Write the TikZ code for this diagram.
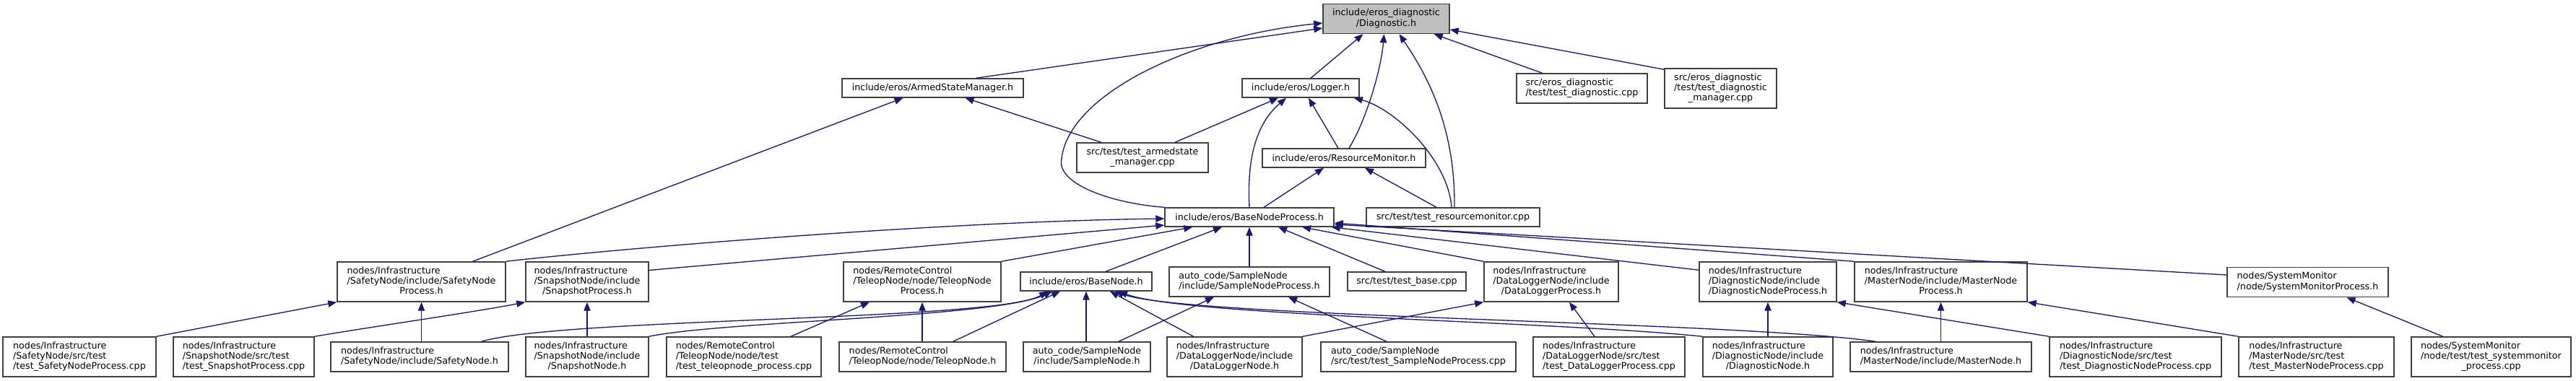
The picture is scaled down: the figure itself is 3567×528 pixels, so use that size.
\documentclass[tikz,border=0pt]{standalone}
\usepackage{fontspec}
\setmainfont{DejaVu Sans}
\usepackage{tikz}
\usetikzlibrary{arrows.meta, calc}
\definecolor{edgeblue}{HTML}{191970}
\definecolor{boxline}{HTML}{404040}
\definecolor{rootfill}{HTML}{BFBFBF}
\newcommand{\flab}[2]{\begin{tabular}{@{}l@{}}#1\\\multicolumn{1}{@{}c@{}}{#2}\end{tabular}}

\begin{document}
\begin{tikzpicture}[
			x=0.75pt, y=-0.75pt,
			file/.style={draw=boxline, line width=1.1pt, fill=white, inner sep=2pt,
				font=\fontsize{9.5}{10.75}\selectfont, minimum width=#1},
			oneln/.style={minimum height=19.5pt},
			twoln/.style={minimum height=30.75pt},
			threeln/.style={minimum height=41.25pt},
			dep/.style={<-, >={Triangle[length=9pt, width=7pt]}, draw=edgeblue, line width=1pt}
			]
			\useasboundingbox (0,0) rectangle (3567,528);
			\node[file=131.25pt, twoln, fill=rootfill] (diag) at (1919.5,26) {\flab{include/eros\_diagnostic}{/Diagnostic.h}};

			\node[file=188.25pt, oneln] (asm) at (1291.5,122) {include/eros/ArmedStateManager.h};
			\node[file=121.5pt, oneln] (logger) at (1801,122) {include/eros/Logger.h};
			\node[file=135.75pt, twoln] (tdiag) at (2190.5,122.5) {\flab{src/eros\_diagnostic}{/test/test\_diagnostic.cpp}};
			\node[file=116.25pt, threeln] (tdiagmgr) at (2382.5,122.5) {\flab{src/eros\_diagnostic\\/test/test\_diagnostic}{\_manager.cpp}};

			\node[file=136.5pt, twoln] (tasm) at (1582,218.5) {\flab{src/test/test\_armedstate}{\_manager.cpp}};
			\node[file=169.5pt, oneln] (resmon) at (1861,219) {include/eros/ResourceMonitor.h};

			\node[file=175.5pt, oneln] (bnp) at (1730,301) {include/eros/BaseNodeProcess.h};
			\node[file=180pt, oneln] (tresmon) at (2012,301) {src/test/test\_resourcemonitor.cpp};

			\node[file=174.75pt, threeln] (safetyproc) at (583.5,390.5) {\flab{nodes/Infrastructure\\/SafetyNode/include/SafetyNode}{Process.h}};
			\node[file=127.5pt, threeln] (snapproc) at (813,390.5) {\flab{nodes/Infrastructure\\/SnapshotNode/include}{/SnapshotProcess.h}};
			\node[file=163.5pt, threeln] (teleopproc) at (1277,390.5) {\flab{nodes/RemoteControl\\/TeleopNode/node/TeleopNode}{Process.h}};
			\node[file=136.5pt, oneln] (basenode) at (1504,390) {include/eros/BaseNode.h};
			\node[file=166.5pt, twoln] (sampleproc) at (1730,390.5) {\flab{auto\_code/SampleNode}{/include/SampleNodeProcess.h}};
			\node[file=123pt, oneln] (testbase) at (1948,390) {src/test/test\_base.cpp};
			\node[file=139.5pt, threeln] (dlproc) at (2148,390.5) {\flab{nodes/Infrastructure\\/DataLoggerNode/include}{/DataLoggerProcess.h}};
			\node[file=142.5pt, threeln] (diagproc) at (2448,390.5) {\flab{nodes/Infrastructure\\/DiagnosticNode/include}{/DiagnosticNodeProcess.h}};
			\node[file=179.25pt, threeln] (masterproc) at (2687.5,390.5) {\flab{nodes/Infrastructure\\/MasterNode/include/MasterNode}{Process.h}};
			\node[file=167.25pt, twoln] (sysmonproc) at (3195.5,391) {\flab{nodes/SystemMonitor}{/node/SystemMonitorProcess.h}};

			\node[file=159pt, threeln] (tsafety) at (110,494.5) {\flab{nodes/Infrastructure\\/SafetyNode/src/test}{/test\_SafetyNodeProcess.cpp}};
			\node[file=146.25pt, threeln] (tsnap) at (337.5,494.5) {\flab{nodes/Infrastructure\\/SnapshotNode/src/test}{/test\_SnapshotProcess.cpp}};
			\node[file=184.5pt, twoln] (safetynode) at (581,494.5) {\flab{nodes/Infrastructure}{/SafetyNode/include/SafetyNode.h}};
			\node[file=127.5pt, threeln] (snapnode) at (813,494.5) {\flab{nodes/Infrastructure\\/SnapshotNode/include}{/SnapshotNode.h}};
			\node[file=160.5pt, threeln] (tteleop) at (1030,494.5) {\flab{nodes/RemoteControl\\/TeleopNode/node/test}{/test\_teleopnode\_process.cpp}};
			\node[file=173.25pt, twoln] (teleopnode) at (1277.5,494.5) {\flab{nodes/RemoteControl}{/TeleopNode/node/TeleopNode.h}};
			\node[file=132pt, twoln] (samplenode) at (1505,494.5) {\flab{auto\_code/SampleNode}{/include/SampleNode.h}};
			\node[file=140.25pt, threeln] (dlnode) at (1709.5,494.5) {\flab{nodes/Infrastructure\\/DataLoggerNode/include}{/DataLoggerNode.h}};
			\node[file=202.5pt, twoln] (tsample) at (1964,494.5) {\flab{auto\_code/SampleNode}{/src/test/test\_SampleNodeProcess.cpp}};
			\node[file=157.5pt, threeln] (tdl) at (2228,494.5) {\flab{nodes/Infrastructure\\/DataLoggerNode/src/test}{/test\_DataLoggerProcess.cpp}};
			\node[file=135pt, threeln] (diagnode) at (2448,494.5) {\flab{nodes/Infrastructure\\/DiagnosticNode/include}{/DiagnosticNode.h}};
			\node[file=188.25pt, twoln] (masternode) at (2687.5,494.5) {\flab{nodes/Infrastructure}{/MasterNode/include/MasterNode.h}};
			\node[file=178.5pt, threeln] (tdiagproc) at (2957,494.5) {\flab{nodes/Infrastructure\\/DiagnosticNode/src/test}{/test\_DiagnosticNodeProcess.cpp}};
			\node[file=161.25pt, threeln] (tmaster) at (3207.5,494.5) {\flab{nodes/Infrastructure\\/MasterNode/src/test}{/test\_MasterNodeProcess.cpp}};
			\node[file=165.75pt, threeln] (tsysmon) at (3449.5,494.5) {\flab{nodes/SystemMonitor\\/node/test/test\_systemmonitor}{\_process.cpp}};

			\draw[dep] ($(diag.west)+(0,13)$) -- ($(asm.north)+(60,0)$);
			\draw[dep] ($(diag.west)+(0,6)$) .. controls (1650,50) and (1480,130) .. (1470,220) .. controls (1462,255) and (1540,282) .. (bnp.north west);
			\draw[dep] ($(diag.south)+(-32,0)$) -- ($(logger.north)+(14,0)$);
			\draw[dep] ($(diag.south)+(-3,0)$) .. controls (1912,100) and (1890,170) .. ($(resmon.north)+(7,0)$);
			\draw[dep] ($(diag.south)+(18,0)$) .. controls (1980,110) and (2015,180) .. ($(tresmon.north)+(2,0)$);
			\draw[dep] ($(diag.south east)+(-22,0)$) -- ($(tdiag.north)+(-55,0)$);
			\draw[dep] ($(diag.east)+(0,15)$) -- ($(tdiagmgr.north west)+(0,2)$);

			\draw[dep] ($(logger.south)+(-31,0)$) -- ($(tasm.north)+(45,0)$);
			\draw[dep] ($(logger.south)+(-20,0)$) .. controls (1735,175) and (1727,230) .. (bnp.north);
			\draw[dep] ($(logger.south)+(11,0)$) -- ($(resmon.north)+(-8,0)$);
			\draw[dep] ($(logger.south east)+(-8,0)$) .. controls (1930,150) and (2005,220) .. ($(tresmon.north)+(-2,0)$);

			\draw[dep] ($(resmon.south)+(-28,0)$) -- ($(bnp.north)+(20,0)$);
			\draw[dep] ($(resmon.south)+(29,0)$) -- ($(tresmon.north)+(-23,0)$);

			\draw[dep] ($(asm.south)+(45,0)$) -- ($(tasm.north)+(-57,0)$);
			\draw[dep] ($(asm.south)+(-41,0)$) -- ($(safetyproc.north)+(71,0)$);

			\draw[dep] ($(bnp.west)+(0,2)$) .. controls (1300,307) and (850,345) .. (safetyproc.north east);
			\draw[dep] ($(bnp.west)+(0,11)$) -- ($(snapproc.east)+(0,-16)$);
			\draw[dep] ($(bnp.south west)+(39,0)$) -- (teleopproc.north east);
			\draw[dep] ($(bnp.south)+(-38,0)$) -- ($(basenode.north)+(27,0)$);
			\draw[dep] (bnp.south) -- (sampleproc.north);
			\draw[dep] ($(bnp.south)+(40,0)$) -- ($(testbase.north)+(-30,0)$);
			\draw[dep] ($(bnp.south)+(73,0)$) -- (dlproc.north west);
			\draw[dep] ($(bnp.south east)+(-4,0)$) -- ($(diagproc.north west)+(0,12)$);
			\draw[dep] ($(bnp.east)+(0,8)$) -- (masterproc.north west);
			\draw[dep] ($(bnp.east)+(0,10)$) -- ($(sysmonproc.west)+(0,-10)$);

			\draw[dep] (safetyproc.south west) -- (tsafety.north east);
			\draw[dep] (safetyproc.south) -- (safetyproc.south |- safetynode.north);
			\draw[dep] (snapproc.south west) .. controls (660,432) and (520,452) .. (tsnap.north east);
			\draw[dep] (snapproc.south) -- (snapnode.north);
			\draw[dep] ($(teleopproc.south)+(-73,0)$) -- ($(tteleop.north)+(65,0)$);
			\draw[dep] (teleopproc.south) -- (teleopproc.south |- teleopnode.north);

			\draw[dep] ($(basenode.south)+(-53,0)$) .. controls (1380,445) and (780,440) .. ($(safetynode.north east)+(-38,0)$);
			\draw[dep] ($(basenode.south)+(-47,0)$) .. controls (1380,440) and (1000,445) .. (snapnode.north east);
			\draw[dep] ($(basenode.south)+(-36,0)$) -- ($(teleopnode.north east)+(-74,0)$);
			\draw[dep] (basenode.south) -- (basenode.south |- samplenode.north);
			\draw[dep] ($(basenode.south)+(33,0)$) -- ($(dlnode.north)+(-57,0)$);
			\draw[dep] ($(basenode.south)+(45,0)$) .. controls (1640,438) and (2150,445) .. (diagnode.north west);
			\draw[dep] ($(basenode.south)+(40,0)$) .. controls (1640,440) and (2400,445) .. ($(masternode.north west)+(36,0)$);

			\draw[dep] ($(sampleproc.south)+(-49,0)$) -- ($(samplenode.north)+(44,0)$);
			\draw[dep] ($(sampleproc.south)+(54,0)$) -- ($(tsample.north)+(-44,0)$);
			\draw[dep] (dlproc.south west) -- (dlnode.north east);
			\draw[dep] ($(dlproc.south)+(25,0)$) -- ($(tdl.north)+(-20,0)$);
			\draw[dep] (diagproc.south) -- (diagnode.north);
			\draw[dep] (diagproc.south east) -- (tdiagproc.north west);
			\draw[dep] (masterproc.south) -- (masternode.north);
			\draw[dep] (masterproc.south east) -- (tmaster.north west);
			\draw[dep] ($(sysmonproc.south)+(54,0)$) -- ($(tsysmon.north)+(-67,0)$);
		\end{tikzpicture}
\end{document}
